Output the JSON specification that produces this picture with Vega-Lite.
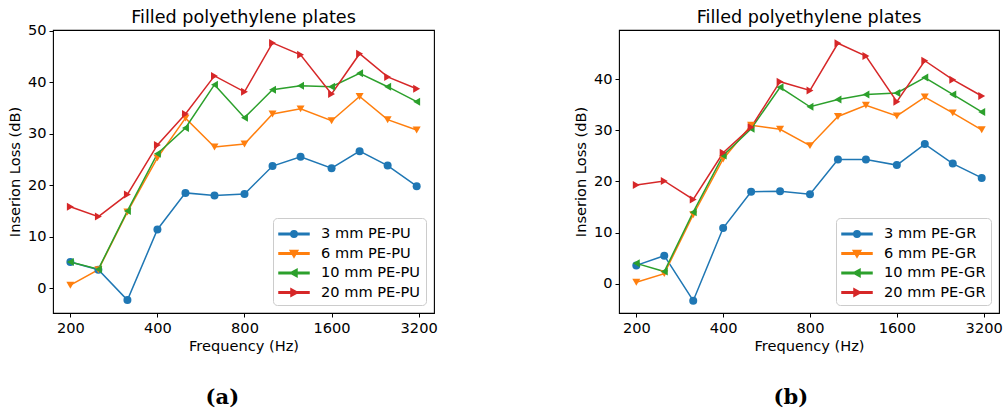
{
  "$schema": "https://vega.github.io/schema/vega-lite/v6.json",
  "background": "white",
  "padding": {"left": 6, "top": 8, "right": 5, "bottom": 5},
  "datasets": {
    "a": [
      {"freq": 200, "t": "3 mm", "series": "3 mm PE-PU", "il": 5.1},
      {"freq": 250, "t": "3 mm", "series": "3 mm PE-PU", "il": 3.6},
      {"freq": 315, "t": "3 mm", "series": "3 mm PE-PU", "il": -2.3},
      {"freq": 400, "t": "3 mm", "series": "3 mm PE-PU", "il": 11.4},
      {"freq": 500, "t": "3 mm", "series": "3 mm PE-PU", "il": 18.5},
      {"freq": 630, "t": "3 mm", "series": "3 mm PE-PU", "il": 18.0},
      {"freq": 800, "t": "3 mm", "series": "3 mm PE-PU", "il": 18.3},
      {"freq": 1000, "t": "3 mm", "series": "3 mm PE-PU", "il": 23.7},
      {"freq": 1250, "t": "3 mm", "series": "3 mm PE-PU", "il": 25.5},
      {"freq": 1600, "t": "3 mm", "series": "3 mm PE-PU", "il": 23.3},
      {"freq": 2000, "t": "3 mm", "series": "3 mm PE-PU", "il": 26.6},
      {"freq": 2500, "t": "3 mm", "series": "3 mm PE-PU", "il": 23.8},
      {"freq": 3150, "t": "3 mm", "series": "3 mm PE-PU", "il": 19.8},
      {"freq": 200, "t": "6 mm", "series": "6 mm PE-PU", "il": 0.6},
      {"freq": 250, "t": "6 mm", "series": "6 mm PE-PU", "il": 3.6},
      {"freq": 315, "t": "6 mm", "series": "6 mm PE-PU", "il": 14.8},
      {"freq": 400, "t": "6 mm", "series": "6 mm PE-PU", "il": 25.3},
      {"freq": 500, "t": "6 mm", "series": "6 mm PE-PU", "il": 33.0},
      {"freq": 630, "t": "6 mm", "series": "6 mm PE-PU", "il": 27.4},
      {"freq": 800, "t": "6 mm", "series": "6 mm PE-PU", "il": 28.0},
      {"freq": 1000, "t": "6 mm", "series": "6 mm PE-PU", "il": 33.8},
      {"freq": 1250, "t": "6 mm", "series": "6 mm PE-PU", "il": 34.8},
      {"freq": 1600, "t": "6 mm", "series": "6 mm PE-PU", "il": 32.5},
      {"freq": 2000, "t": "6 mm", "series": "6 mm PE-PU", "il": 37.2},
      {"freq": 2500, "t": "6 mm", "series": "6 mm PE-PU", "il": 32.7},
      {"freq": 3150, "t": "6 mm", "series": "6 mm PE-PU", "il": 30.7},
      {"freq": 200, "t": "10 mm", "series": "10 mm PE-PU", "il": 5.1},
      {"freq": 250, "t": "10 mm", "series": "10 mm PE-PU", "il": 3.7},
      {"freq": 315, "t": "10 mm", "series": "10 mm PE-PU", "il": 15.0},
      {"freq": 400, "t": "10 mm", "series": "10 mm PE-PU", "il": 26.1},
      {"freq": 500, "t": "10 mm", "series": "10 mm PE-PU", "il": 31.1},
      {"freq": 630, "t": "10 mm", "series": "10 mm PE-PU", "il": 39.5},
      {"freq": 800, "t": "10 mm", "series": "10 mm PE-PU", "il": 33.1},
      {"freq": 1000, "t": "10 mm", "series": "10 mm PE-PU", "il": 38.5},
      {"freq": 1250, "t": "10 mm", "series": "10 mm PE-PU", "il": 39.3},
      {"freq": 1600, "t": "10 mm", "series": "10 mm PE-PU", "il": 39.1},
      {"freq": 2000, "t": "10 mm", "series": "10 mm PE-PU", "il": 41.7},
      {"freq": 2500, "t": "10 mm", "series": "10 mm PE-PU", "il": 39.1},
      {"freq": 3150, "t": "10 mm", "series": "10 mm PE-PU", "il": 36.2},
      {"freq": 200, "t": "20 mm", "series": "20 mm PE-PU", "il": 15.8},
      {"freq": 250, "t": "20 mm", "series": "20 mm PE-PU", "il": 13.9},
      {"freq": 315, "t": "20 mm", "series": "20 mm PE-PU", "il": 18.2},
      {"freq": 400, "t": "20 mm", "series": "20 mm PE-PU", "il": 27.8},
      {"freq": 500, "t": "20 mm", "series": "20 mm PE-PU", "il": 33.8},
      {"freq": 630, "t": "20 mm", "series": "20 mm PE-PU", "il": 41.2},
      {"freq": 800, "t": "20 mm", "series": "20 mm PE-PU", "il": 38.1},
      {"freq": 1000, "t": "20 mm", "series": "20 mm PE-PU", "il": 47.6},
      {"freq": 1250, "t": "20 mm", "series": "20 mm PE-PU", "il": 45.3},
      {"freq": 1600, "t": "20 mm", "series": "20 mm PE-PU", "il": 37.7},
      {"freq": 2000, "t": "20 mm", "series": "20 mm PE-PU", "il": 45.5},
      {"freq": 2500, "t": "20 mm", "series": "20 mm PE-PU", "il": 41.0},
      {"freq": 3150, "t": "20 mm", "series": "20 mm PE-PU", "il": 38.7}
    ],
    "b": [
      {"freq": 200, "t": "3 mm", "series": "3 mm PE-GR", "il": 3.6},
      {"freq": 250, "t": "3 mm", "series": "3 mm PE-GR", "il": 5.5},
      {"freq": 315, "t": "3 mm", "series": "3 mm PE-GR", "il": -3.3},
      {"freq": 400, "t": "3 mm", "series": "3 mm PE-GR", "il": 10.9},
      {"freq": 500, "t": "3 mm", "series": "3 mm PE-GR", "il": 18.0},
      {"freq": 630, "t": "3 mm", "series": "3 mm PE-GR", "il": 18.1},
      {"freq": 800, "t": "3 mm", "series": "3 mm PE-GR", "il": 17.5},
      {"freq": 1000, "t": "3 mm", "series": "3 mm PE-GR", "il": 24.3},
      {"freq": 1250, "t": "3 mm", "series": "3 mm PE-GR", "il": 24.3},
      {"freq": 1600, "t": "3 mm", "series": "3 mm PE-GR", "il": 23.2},
      {"freq": 2000, "t": "3 mm", "series": "3 mm PE-GR", "il": 27.3},
      {"freq": 2500, "t": "3 mm", "series": "3 mm PE-GR", "il": 23.5},
      {"freq": 3150, "t": "3 mm", "series": "3 mm PE-GR", "il": 20.7},
      {"freq": 200, "t": "6 mm", "series": "6 mm PE-GR", "il": 0.3},
      {"freq": 250, "t": "6 mm", "series": "6 mm PE-GR", "il": 2.0},
      {"freq": 315, "t": "6 mm", "series": "6 mm PE-GR", "il": 13.5},
      {"freq": 400, "t": "6 mm", "series": "6 mm PE-GR", "il": 24.4},
      {"freq": 500, "t": "6 mm", "series": "6 mm PE-GR", "il": 31.0},
      {"freq": 630, "t": "6 mm", "series": "6 mm PE-GR", "il": 30.2},
      {"freq": 800, "t": "6 mm", "series": "6 mm PE-GR", "il": 27.0},
      {"freq": 1000, "t": "6 mm", "series": "6 mm PE-GR", "il": 32.7},
      {"freq": 1250, "t": "6 mm", "series": "6 mm PE-GR", "il": 34.9},
      {"freq": 1600, "t": "6 mm", "series": "6 mm PE-GR", "il": 32.8},
      {"freq": 2000, "t": "6 mm", "series": "6 mm PE-GR", "il": 36.5},
      {"freq": 2500, "t": "6 mm", "series": "6 mm PE-GR", "il": 33.4},
      {"freq": 3150, "t": "6 mm", "series": "6 mm PE-GR", "il": 30.1},
      {"freq": 200, "t": "10 mm", "series": "10 mm PE-GR", "il": 4.0},
      {"freq": 250, "t": "10 mm", "series": "10 mm PE-GR", "il": 2.4},
      {"freq": 315, "t": "10 mm", "series": "10 mm PE-GR", "il": 14.0},
      {"freq": 400, "t": "10 mm", "series": "10 mm PE-GR", "il": 25.1},
      {"freq": 500, "t": "10 mm", "series": "10 mm PE-GR", "il": 30.3},
      {"freq": 630, "t": "10 mm", "series": "10 mm PE-GR", "il": 38.4},
      {"freq": 800, "t": "10 mm", "series": "10 mm PE-GR", "il": 34.6},
      {"freq": 1000, "t": "10 mm", "series": "10 mm PE-GR", "il": 36.0},
      {"freq": 1250, "t": "10 mm", "series": "10 mm PE-GR", "il": 37.0},
      {"freq": 1600, "t": "10 mm", "series": "10 mm PE-GR", "il": 37.3},
      {"freq": 2000, "t": "10 mm", "series": "10 mm PE-GR", "il": 40.3},
      {"freq": 2500, "t": "10 mm", "series": "10 mm PE-GR", "il": 37.0},
      {"freq": 3150, "t": "10 mm", "series": "10 mm PE-GR", "il": 33.6},
      {"freq": 200, "t": "20 mm", "series": "20 mm PE-GR", "il": 19.3},
      {"freq": 250, "t": "20 mm", "series": "20 mm PE-GR", "il": 20.1},
      {"freq": 315, "t": "20 mm", "series": "20 mm PE-GR", "il": 16.5},
      {"freq": 400, "t": "20 mm", "series": "20 mm PE-GR", "il": 25.6},
      {"freq": 500, "t": "20 mm", "series": "20 mm PE-GR", "il": 30.6},
      {"freq": 630, "t": "20 mm", "series": "20 mm PE-GR", "il": 39.5},
      {"freq": 800, "t": "20 mm", "series": "20 mm PE-GR", "il": 37.8},
      {"freq": 1000, "t": "20 mm", "series": "20 mm PE-GR", "il": 47.0},
      {"freq": 1250, "t": "20 mm", "series": "20 mm PE-GR", "il": 44.5},
      {"freq": 1600, "t": "20 mm", "series": "20 mm PE-GR", "il": 35.6},
      {"freq": 2000, "t": "20 mm", "series": "20 mm PE-GR", "il": 43.6},
      {"freq": 2500, "t": "20 mm", "series": "20 mm PE-GR", "il": 39.9},
      {"freq": 3150, "t": "20 mm", "series": "20 mm PE-GR", "il": 36.7}
    ]
  },
  "config": {
    "font": "DejaVu Sans",
    "view": {"stroke": "#000000", "strokeWidth": 1.1},
    "axis": {
      "domain": false, "grid": false,
      "tickColor": "#000000", "tickSize": 4, "tickWidth": 1,
      "labelFont": "DejaVu Sans", "labelFontSize": 14.6, "labelColor": "#000000", "labelPadding": 3,
      "titleFont": "DejaVu Sans", "titleFontSize": 14.6, "titleFontWeight": "normal", "titleColor": "#000000"
    },
    "title": {"font": "DejaVu Sans", "fontSize": 17.6, "fontWeight": "normal", "color": "#000000"},
    "legend": {
      "orient": "bottom-right", "offset": 8, "title": null,
      "labelFont": "DejaVu Sans", "labelFontSize": 14.6, "labelColor": "#000000",
      "symbolSize": 400, "labelOffset": 21, "rowPadding": 1.5, "padding": 5,
      "fillColor": "rgba(255,255,255,0.85)", "strokeColor": "#cccccc", "cornerRadius": 4
    }
  },
  "spacing": 134,
  "resolve": {"scale": {"color": "independent", "shape": "independent"}, "legend": {"color": "independent", "shape": "independent"}},
  "hconcat": [
    {
      "title": {"text": "(a)", "orient": "bottom", "anchor": "middle", "font": "DejaVu Serif", "fontSize": 21, "fontWeight": "bold", "dx": 0, "offset": 33},
      "resolve": {"scale": {"color": "independent", "shape": "independent"}, "legend": {"color": "independent", "shape": "independent"}},
      "vconcat": [
        {
          "title": {"text": "Filled polyethylene plates", "offset": -4},
          "width": 381, "height": 283,
          "data": {"name": "a"},
          "encoding": {
            "x": {"field": "freq", "type": "quantitative", "scale": {"type": "log", "domain": [174.2, 3616], "nice": false},
                  "axis": {"values": [200, 400, 800, 1600, 3200], "format": "d", "title": "Frequency (Hz)", "labelFlush": false, "titlePadding": 4}},
            "y": {"field": "il", "type": "quantitative", "scale": {"domain": [-4.8, 50.1], "nice": false, "zero": false},
                  "axis": {"values": [0, 10, 20, 30, 40, 50], "title": "Inserion Loss (dB)", "titlePadding": 5}},
            "color": {"field": "series", "type": "nominal",
                      "scale": {"domain": ["3 mm PE-PU", "6 mm PE-PU", "10 mm PE-PU", "20 mm PE-PU"], "range": ["#1f77b4", "#ff7f0e", "#2ca02c", "#d62728"]},
                      "legend": {
                        "encode": {"symbols": {"update": {
                          "shape": {"signal": "indexof(datum.value,'3 mm')===0 ? 'M-1,-0.075L2,-0.075L2,0.075L-1,0.075ZM0.82,0A0.32,0.32,0,1,1,0.18,0A0.32,0.32,0,1,1,0.82,0Z' : indexof(datum.value,'6 mm')===0 ? 'M-1,-0.075L2,-0.075L2,0.075L-1,0.075ZM0.12,-0.3L0.88,-0.3L0.5,0.38Z' : indexof(datum.value,'10 mm')===0 ? 'M-1,-0.075L2,-0.075L2,0.075L-1,0.075ZM0.12,0L0.8,-0.38L0.8,0.38Z' : 'M-1,-0.075L2,-0.075L2,0.075L-1,0.075ZM0.88,0L0.2,0.38L0.2,-0.38Z'"},
                          "fill": {"signal": "indexof(datum.value,'3 mm')===0 ? '#1f77b4' : indexof(datum.value,'6 mm')===0 ? '#ff7f0e' : indexof(datum.value,'10 mm')===0 ? '#2ca02c' : '#d62728'"},
                          "stroke": {"value": "transparent"},
                          "opacity": {"value": 1}
                        }}}
                      }}
          },
          "layer": [
            {
              "mark": {"type": "line", "strokeWidth": 1.5},
              "encoding": {"detail": {"field": "series"}}
            },
            {
              "mark": {"type": "point", "filled": true, "opacity": 1, "size": 64},
              "encoding": {
                "shape": {"field": "t", "type": "nominal", "legend": null,
                          "scale": {"domain": ["3 mm", "6 mm", "10 mm", "20 mm"], "range": ["circle", "triangle-down", "triangle-left", "triangle-right"]}}
              }
            }
          ]
        }
      ]
    },
    {
      "title": {"text": "(b)", "orient": "bottom", "anchor": "middle", "font": "DejaVu Serif", "fontSize": 21, "fontWeight": "bold", "dx": 3, "offset": 33},
      "resolve": {"scale": {"color": "independent", "shape": "independent"}, "legend": {"color": "independent", "shape": "independent"}},
      "vconcat": [
        {
          "title": {"text": "Filled polyethylene plates", "offset": 3},
          "width": 380, "height": 283,
          "data": {"name": "b"},
          "encoding": {
            "x": {"field": "freq", "type": "quantitative", "scale": {"type": "log", "domain": [174.2, 3616], "nice": false},
                  "axis": {"values": [200, 400, 800, 1600, 3200], "format": "d", "title": "Frequency (Hz)", "labelFlush": false, "titlePadding": 4}},
            "y": {"field": "il", "type": "quantitative", "scale": {"domain": [-5.7, 49.6], "nice": false, "zero": false},
                  "axis": {"values": [0, 10, 20, 30, 40], "title": "Inserion Loss (dB)", "titlePadding": 5}},
            "color": {"field": "series", "type": "nominal",
                      "scale": {"domain": ["3 mm PE-GR", "6 mm PE-GR", "10 mm PE-GR", "20 mm PE-GR"], "range": ["#1f77b4", "#ff7f0e", "#2ca02c", "#d62728"]},
                      "legend": {
                        "encode": {"symbols": {"update": {
                          "shape": {"signal": "indexof(datum.value,'3 mm')===0 ? 'M-1,-0.075L2,-0.075L2,0.075L-1,0.075ZM0.82,0A0.32,0.32,0,1,1,0.18,0A0.32,0.32,0,1,1,0.82,0Z' : indexof(datum.value,'6 mm')===0 ? 'M-1,-0.075L2,-0.075L2,0.075L-1,0.075ZM0.12,-0.3L0.88,-0.3L0.5,0.38Z' : indexof(datum.value,'10 mm')===0 ? 'M-1,-0.075L2,-0.075L2,0.075L-1,0.075ZM0.12,0L0.8,-0.38L0.8,0.38Z' : 'M-1,-0.075L2,-0.075L2,0.075L-1,0.075ZM0.88,0L0.2,0.38L0.2,-0.38Z'"},
                          "fill": {"signal": "indexof(datum.value,'3 mm')===0 ? '#1f77b4' : indexof(datum.value,'6 mm')===0 ? '#ff7f0e' : indexof(datum.value,'10 mm')===0 ? '#2ca02c' : '#d62728'"},
                          "stroke": {"value": "transparent"},
                          "opacity": {"value": 1}
                        }}}
                      }}
          },
          "layer": [
            {
              "mark": {"type": "line", "strokeWidth": 1.5},
              "encoding": {"detail": {"field": "series"}}
            },
            {
              "mark": {"type": "point", "filled": true, "opacity": 1, "size": 64},
              "encoding": {
                "shape": {"field": "t", "type": "nominal", "legend": null,
                          "scale": {"domain": ["3 mm", "6 mm", "10 mm", "20 mm"], "range": ["circle", "triangle-down", "triangle-left", "triangle-right"]}}
              }
            }
          ]
        }
      ]
    }
  ]
}
